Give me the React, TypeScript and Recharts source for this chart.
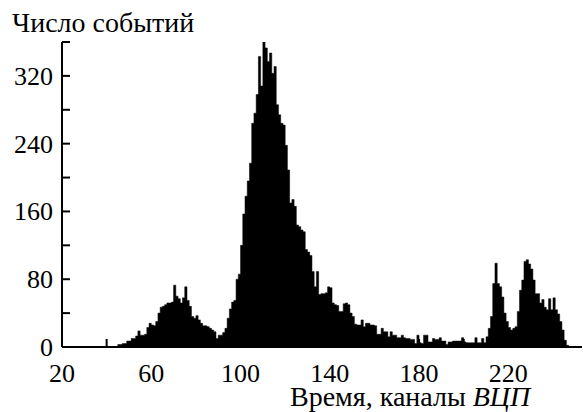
import React from "react";
import { AreaChart, Area, XAxis, YAxis } from "recharts";

// counts per TDC channel, starting at FIRST_CHANNEL
const FIRST_CHANNEL = 40;
const counts = [
  0, 0, 0, 0, 0, 3, 3, 4, 4, 7,
  7, 10, 10, 13, 19, 14, 14, 15, 23, 28,
  26, 25, 30, 40, 47, 48, 50, 52, 52, 53,
  73, 60, 57, 52, 58, 71, 55, 48, 36, 34,
  37, 32, 28, 25, 25, 24, 22, 20, 18, 10,
  14, 14, 17, 22, 34, 45, 53, 55, 80, 86,
  120, 157, 178, 196, 217, 264, 276, 298, 343, 308,
  361, 353, 337, 347, 323, 331, 286, 274, 264, 262,
  238, 209, 170, 174, 166, 144, 142, 138, 136, 115,
  112, 108, 89, 71, 89, 62, 63, 63, 64, 71,
  70, 52, 50, 49, 42, 42, 51, 52, 50, 40,
  36, 27, 26, 26, 32, 24, 28, 28, 26, 26,
  25, 15, 15, 22, 18, 18, 12, 18, 14, 14,
  11, 11, 14, 11, 10, 10, 9, 9, 4, 14,
  5, 4, 14, 14, 6, 6, 10, 9, 9, 11,
  7, 7, 3, 6, 6, 7, 7, 7, 7, 11,
  6, 5, 5, 5, 5, 11, 5, 5, 10, 5,
  12, 22, 36, 75, 99, 75, 71, 59, 40, 30,
  23, 20, 22, 24, 42, 67, 79, 101, 103, 98,
  92, 79, 63, 63, 52, 56, 47, 44, 57, 44,
  58, 44, 39, 30, 20, 8, 2, 0,
];

const xTicks = [20, 40, 60, 80, 100, 120, 140, 160, 180, 200, 220, 240];
const xLabels = [20, 60, 100, 140, 180, 220];
const yTicks = [0, 40, 80, 120, 160, 200, 240, 280, 320, 360];
const yLabels = [0, 80, 160, 240, 320];

const tickStyle = { fontFamily: "Liberation Serif", fontSize: 26 };
const titleStyle = { fontFamily: "Liberation Serif", fontSize: 28 };

const data = counts.map((c, i) => ({ channel: FIRST_CHANNEL + i, count: c }));

const YTick = (props: any) => {
  const { x, y, payload } = props;
  const v = payload.value;
  return (
    <g>
      {v !== 0 && <line x1={x} x2={x + 8} y1={y} y2={y} stroke="#000" strokeWidth={2} />}
      {yLabels.includes(v) && (
        <text x={x - 9} y={y} dy={9} textAnchor="end" style={tickStyle} fill="#000">
          {v}
        </text>
      )}
    </g>
  );
};

const XTick = (props: any) => {
  const { x, y, payload } = props;
  const v = payload.value;
  return (
    <g>
      {v !== 20 && <line x1={x} x2={x} y1={y} y2={y - 8} stroke="#000" strokeWidth={2} />}
      {xLabels.includes(v) && (
        <text x={x} y={y + 35} textAnchor="middle" style={tickStyle} fill="#000">
          {v}
        </text>
      )}
    </g>
  );
};

export default function App() {
  return (
    <div style={{ position: "absolute", left: 0, top: 0, width: 583, height: 412, background: "#fff" }}>
      <AreaChart
        width={583}
        height={412}
        data={data}
        margin={{ top: 42, right: 1, bottom: 0, left: 0 }}
      >
        <XAxis
          dataKey="channel"
          type="number"
          domain={[20, 253]}
          ticks={xTicks}
          interval={0}
          height={65}
          tickSize={0}
          tickMargin={0}
          tickLine={false}
          axisLine={{ stroke: "#000", strokeWidth: 2 }}
          tick={<XTick />}
          allowDataOverflow
        />
        <YAxis
          type="number"
          domain={[0, 360]}
          ticks={yTicks}
          interval={0}
          width={62}
          tickSize={0}
          tickMargin={0}
          tickLine={false}
          axisLine={{ stroke: "#000", strokeWidth: 2 }}
          tick={<YTick />}
          allowDataOverflow
        />
        <Area
          dataKey="count"
          type="stepAfter"
          stroke="#000"
          strokeWidth={0.5}
          fill="#000"
          fillOpacity={1}
          isAnimationActive={false}
        />
      </AreaChart>
      <svg
        width={583}
        height={412}
        style={{ position: "absolute", left: 0, top: 0, pointerEvents: "none" }}
      >
        <text x={12} y={32} style={titleStyle} fill="#000">
          Число событий
        </text>
        <text x={290} y={406} style={titleStyle} fill="#000">
          Время, каналы <tspan fontStyle="italic">ВЦП</tspan>
        </text>
      </svg>
    </div>
  );
}
